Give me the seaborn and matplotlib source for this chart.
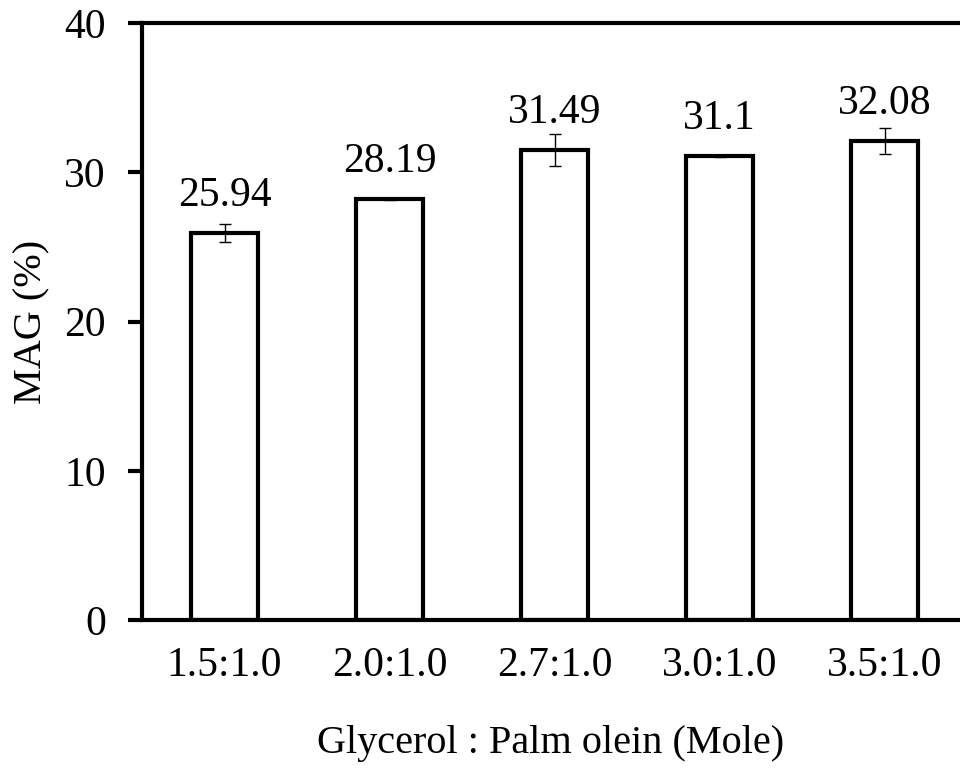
import matplotlib
matplotlib.use("Agg")
import matplotlib.pyplot as plt
import seaborn as sns
import pandas as pd

# Molar ratio of glycerol to palm olein and resulting MAG content
ratios = ["1.5:1.0", "2.0:1.0", "2.7:1.0", "3.0:1.0", "3.5:1.0"]
mag = [25.94, 28.19, 31.49, 31.1, 32.08]
mag_err = [0.58, 0.05, 1.07, 0.08, 0.87]
yticks = [0, 10, 20, 30, 40]

sns.set_style("ticks")
plt.rcParams["font.family"] = ["Liberation Serif", "DejaVu Serif"]
plt.rcParams["font.size"] = 30
for key in ("text.color", "axes.labelcolor", "xtick.color", "ytick.color"):
    plt.rcParams[key] = "black"

df = pd.DataFrame({"ratio": ratios, "mag": mag})

fig = plt.figure(figsize=(9.6, 7.75), dpi=100)
ax = fig.add_axes([0.148, 0.2, 0.852, 0.77])

sns.barplot(data=df, x="ratio", y="mag", ax=ax, color="white",
            edgecolor="black", linewidth=3, width=0.41, errorbar=None,
            saturation=1)

xs = list(range(len(ratios)))
ax.errorbar(xs, mag, yerr=mag_err, fmt="none", ecolor="black",
            elinewidth=1, capsize=4.5, capthick=1)

for x, v in zip(xs, mag):
    ax.annotate(f"{v:g}", xy=(x, v), xytext=(0, 27),
                textcoords="offset points", ha="center", va="center",
                fontsize=30, color="black")

ax.set_ylim(0, 40)
ax.set_xlim(-0.5, 4.457)
ax.set_yticks(yticks)
ax.set_yticklabels([str(t) for t in yticks])

for side in ("left", "top", "bottom"):
    ax.spines[side].set_linewidth(3)
    ax.spines[side].set_color("black")
ax.spines["right"].set_visible(False)

ax.tick_params(axis="y", length=10, width=3, pad=16, labelsize=30,
               colors="black")
ax.tick_params(axis="x", length=0, pad=19, labelsize=30, colors="black")

ax.set_xlabel("Glycerol : Palm olein (Mole)", fontsize=29, labelpad=29,
              color="black")
ax.set_ylabel("MAG (%)", fontsize=29, labelpad=10, color="black")

fig.savefig("out.png", dpi=100)
